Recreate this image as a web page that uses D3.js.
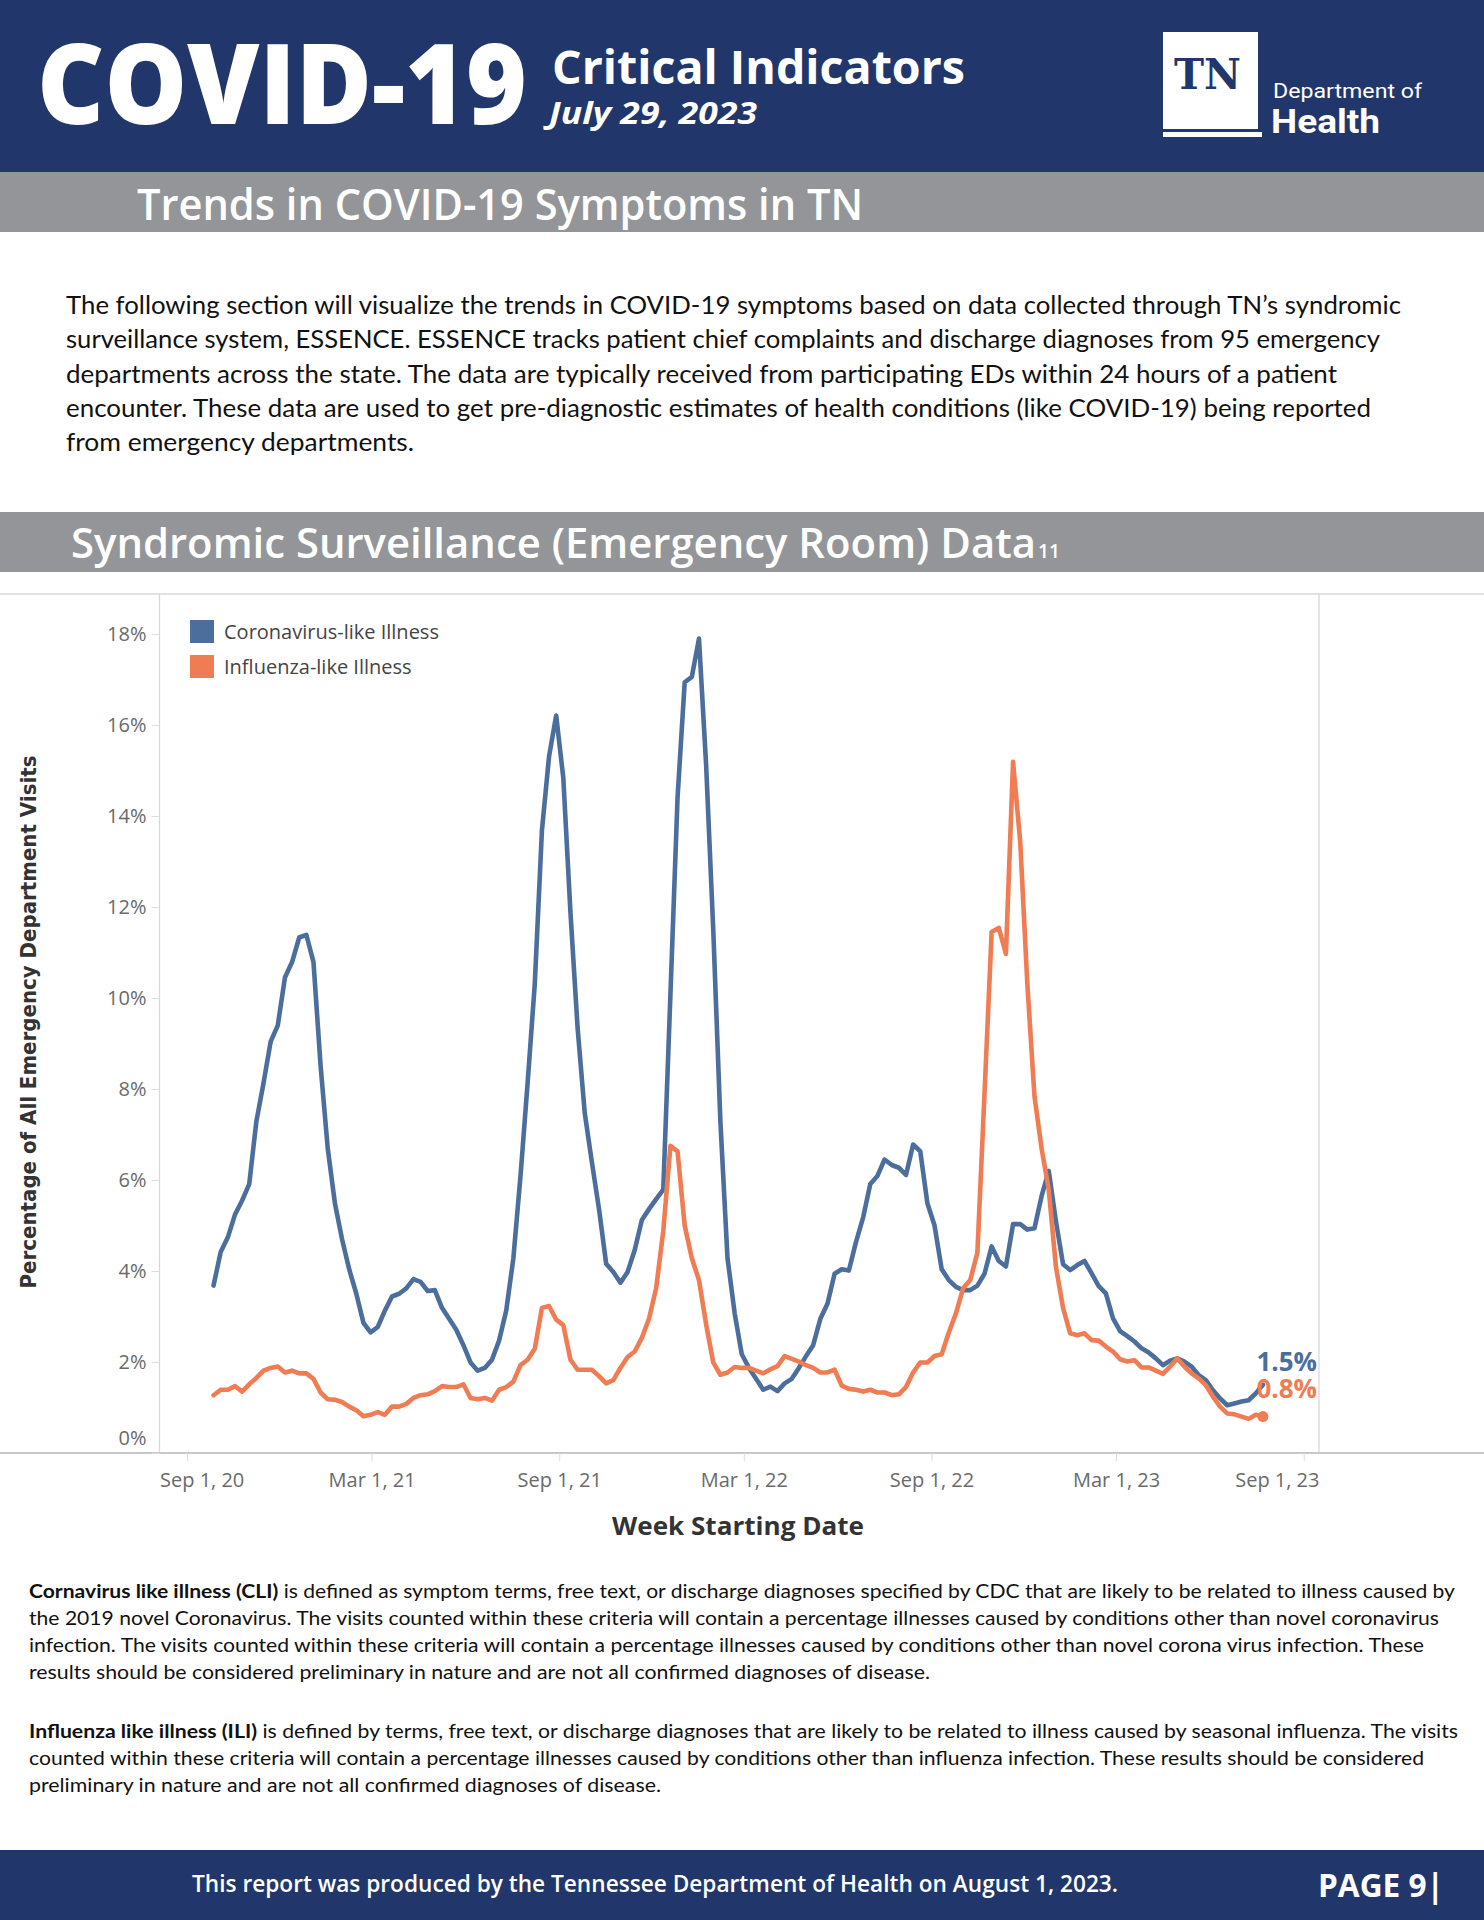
<!DOCTYPE html>
<html>
<head>
<meta charset="utf-8">
<script src="https://cdn.jsdelivr.net/npm/d3@7"></script>
<style>
  body { margin: 0; background: #fff; }
  svg text { font-family: 'Open Sans', sans-serif; }
</style>
</head>
<body>
<div id="page"></div>
<script>
// weekly ESSENCE values, first week starting Sep 27, 2020
const firstWeek = new Date(2020, 8, 27),
	cli = [3.68, 4.42, 4.74, 5.24, 5.55, 5.91, 7.29, 8.13, 9.04, 9.40,
		10.45, 10.79, 11.33, 11.39, 10.79, 8.50, 6.69, 5.49, 4.70, 4.04,
		3.50, 2.86, 2.65, 2.77, 3.13, 3.44, 3.50, 3.62, 3.82, 3.76,
		3.56, 3.58, 3.19, 2.95, 2.71, 2.37, 1.99, 1.81, 1.87, 2.05,
		2.47, 3.13, 4.28, 6.09, 8.14, 10.31, 13.68, 15.31, 16.21, 14.83,
		11.87, 9.34, 7.47, 6.39, 5.36, 4.16, 3.98, 3.74, 3.98, 4.46,
		5.12, 5.36, 5.58, 5.79, 10.07, 14.41, 16.94, 17.06, 17.90, 15.13,
		11.51, 7.29, 4.28, 3.07, 2.17, 1.87, 1.63, 1.39, 1.46, 1.36,
		1.53, 1.63, 1.87, 2.13, 2.37, 2.95, 3.28, 3.94, 4.04, 4.01,
		4.64, 5.18, 5.91, 6.09, 6.45, 6.33, 6.27, 6.11, 6.78, 6.63,
		5.49, 5.00, 4.04, 3.80, 3.65, 3.58, 3.58, 3.68, 3.94, 4.54,
		4.22, 4.10, 5.03, 5.03, 4.91, 4.94, 5.65, 6.20, 5.10, 4.15,
		4.02, 4.13, 4.22, 3.95, 3.67, 3.51, 2.96, 2.68, 2.57, 2.45,
		2.30, 2.21, 2.08, 1.93, 2.03, 2.08, 2.01, 1.90, 1.71, 1.60,
		1.38, 1.20, 1.05, 1.09, 1.13, 1.16, 1.31, 1.50],
	ili = [1.27, 1.39, 1.39, 1.47, 1.35, 1.51, 1.65, 1.81, 1.87, 1.90,
		1.77, 1.81, 1.75, 1.75, 1.63, 1.33, 1.18, 1.17, 1.12, 1.02,
		0.94, 0.81, 0.84, 0.90, 0.84, 1.02, 1.02, 1.08, 1.21, 1.27,
		1.29, 1.36, 1.47, 1.45, 1.45, 1.51, 1.21, 1.18, 1.21, 1.15,
		1.39, 1.45, 1.57, 1.93, 2.05, 2.29, 3.19, 3.23, 2.93, 2.81,
		2.05, 1.83, 1.83, 1.83, 1.69, 1.53, 1.60, 1.87, 2.11, 2.23,
		2.53, 2.95, 3.62, 4.88, 6.75, 6.63, 5.00, 4.28, 3.80, 2.83,
		1.99, 1.72, 1.77, 1.89, 1.87, 1.87, 1.81, 1.75, 1.84, 1.91,
		2.13, 2.07, 2.01, 1.93, 1.87, 1.77, 1.77, 1.83, 1.48, 1.41,
		1.39, 1.35, 1.39, 1.33, 1.33, 1.27, 1.29, 1.45, 1.77, 1.99,
		1.99, 2.13, 2.17, 2.65, 3.07, 3.62, 3.80, 4.40, 7.90, 11.45,
		11.54, 10.97, 15.19, 13.44, 10.31, 7.84, 6.69, 5.79, 4.10, 3.19,
		2.63, 2.59, 2.63, 2.48, 2.47, 2.34, 2.23, 2.06, 2.01, 2.04,
		1.88, 1.88, 1.81, 1.74, 1.90, 2.08, 1.90, 1.75, 1.64, 1.49,
		1.24, 1.02, 0.87, 0.85, 0.80, 0.75, 0.84, 0.80],
	seriesNames = ['Coronavirus-like Illness', 'Influenza-like Illness'],
	colors = ['#4b6e9c', '#ef7c52'],
	yTicks = [0, 2, 4, 6, 8, 10, 12, 14, 16, 18],
	xTicks = [new Date(2020, 8, 1), new Date(2021, 2, 1), new Date(2021, 8, 1),
		new Date(2022, 2, 1), new Date(2022, 8, 1), new Date(2023, 2, 1), new Date(2023, 8, 1)],
	navy = '#21376b',
	grey = '#939598',
	width = 1484,
	height = 1920,
	pane = {left: 159.5, right: 1319, top: 594, bottom: 1453};

const intro = [
	'The following section will visualize the trends in COVID-19 symptoms based on data collected through TN\u2019s syndromic',
	'surveillance system, ESSENCE. ESSENCE tracks patient chief complaints and discharge diagnoses from 95 emergency',
	'departments across the state. The data are typically received from participating EDs within 24 hours of a patient',
	'encounter. These data are used to get pre-diagnostic estimates of health conditions (like COVID-19) being reported',
	'from emergency departments.'
];
const introWidths = [1335, 1314, 1271, 1305, 348];

const cliNote = [
	['Cornavirus like illness (CLI)', ' is defined as symptom terms, free text, or discharge diagnoses specified by CDC that are likely to be related to illness caused by'],
	['', 'the 2019 novel Coronavirus. The visits counted within these criteria will contain a percentage illnesses caused by conditions other than novel coronavirus'],
	['', 'infection. The visits counted within these criteria will contain a percentage illnesses caused by conditions other than novel corona virus infection. These'],
	['', 'results should be considered preliminary in nature and are not all confirmed diagnoses of disease.']
];
const cliWidths = [1426, 1410, 1395, 901];
const iliNote = [
	['Influenza like illness (ILI)', ' is defined by terms, free text, or discharge diagnoses that are likely to be related to illness caused by seasonal influenza. The visits'],
	['', 'counted within these criteria will contain a percentage illnesses caused by conditions other than influenza infection. These results should be considered'],
	['', 'preliminary in nature and are not all confirmed diagnoses of disease.']
];
const iliWidths = [1429, 1395, 632];

// put a text line in and stretch it to the width measured on the page
const fitText = (g, x, y, str, size, w, attrs) => {
	let t = g.append('text')
		.attr('x', x)
		.attr('y', y)
		.style('font-size', size + 'px')
		.text(str);
	if (w) t.attr('textLength', w).attr('lengthAdjust', 'spacingAndGlyphs');
	for (let k in attrs) t.style(k, attrs[k]);
	return t;
};

const makePage = () => {

	let svg = d3.select('#page')
		.append('svg')
		.attr('width', width)
		.attr('height', height)
		.style('display', 'block')
		.style('background', 'white');

	// header band
	svg.append('rect').attr('x', 0).attr('y', 0).attr('width', width).attr('height', 172).attr('fill', navy);
	fitText(svg, 37, 124, 'COVID-19', 112, 490, {fill: 'white', 'font-weight': 800});
	fitText(svg, 552, 84, 'Critical Indicators', 46, 413, {fill: 'white', 'font-weight': 700});
	fitText(svg, 549, 124, 'July 29, 2023', 30, 208, {fill: 'white', 'font-weight': 700, 'font-style': 'italic'});

	// logo
	svg.append('rect').attr('x', 1163).attr('y', 32).attr('width', 95).attr('height', 97).attr('fill', 'white');
	svg.append('rect').attr('x', 1163).attr('y', 132).attr('width', 99).attr('height', 5).attr('fill', 'white');
	fitText(svg, 1174, 89, 'TN', 42, 67, {fill: navy, 'font-weight': 700, 'font-family': "'DejaVu Serif', serif"});
	fitText(svg, 1273, 98, 'Department of', 21, 149, {fill: 'white', 'font-family': 'Roboto, sans-serif'});
	fitText(svg, 1271, 133, 'Health', 34, 109, {fill: 'white', 'font-weight': 700, 'font-family': 'Roboto, sans-serif'});

	// section band
	svg.append('rect').attr('x', 0).attr('y', 172).attr('width', width).attr('height', 60).attr('fill', grey);
	fitText(svg, 137, 220, 'Trends in COVID-19 Symptoms in TN', 43, 726, {fill: 'white', 'font-weight': 600});

	// intro paragraph
	intro.forEach((s, i) => {
		fitText(svg, 66, 314 + i * 34.3, s, 25, introWidths[i], {fill: '#111', 'font-family': 'Lato, sans-serif'});
	});

	// chart band
	svg.append('rect').attr('x', 0).attr('y', 512).attr('width', width).attr('height', 60).attr('fill', grey);
	fitText(svg, 71, 558, 'Syndromic Surveillance (Emergency Room) Data', 42, 965, {fill: 'white', 'font-weight': 600});
	fitText(svg, 1038, 558, '11', 20, 22, {fill: 'white', 'font-weight': 600});

	// scales
	let x = d3.scaleTime()
		.domain([new Date(2020, 7, 5), new Date(2023, 8, 16)])
		.range([pane.left, pane.right]);
	let y = d3.scaleLinear()
		.domain([0, 18.88])
		.range([pane.bottom, pane.top]);
	let weeks = cli.map((d, i) => d3.timeDay.offset(firstWeek, i * 7));

	// pane frame
	let frame = svg.append('g').attr('stroke', '#d9d9d9').attr('stroke-width', 1.3);
	frame.append('line').attr('x1', 0).attr('x2', width).attr('y1', pane.top).attr('y2', pane.top);
	frame.append('line').attr('x1', pane.left).attr('x2', pane.left).attr('y1', pane.top).attr('y2', pane.bottom);
	frame.append('line').attr('x1', pane.right).attr('x2', pane.right).attr('y1', pane.top).attr('y2', pane.bottom);
	frame.append('line').attr('x1', 0).attr('x2', width).attr('y1', pane.bottom).attr('y2', pane.bottom)
		.attr('stroke', '#c8c8c8').attr('stroke-width', 2);

	// axes
	let yAxis = d3.axisLeft(y).tickValues(yTicks).tickFormat(d => d + '%').tickSize(8).tickPadding(5);
	let xAxis = d3.axisBottom(x).tickValues(xTicks).tickFormat(d3.timeFormat('%b %-d, %y')).tickSize(8).tickPadding(12);

	let gy = svg.append('g')
		.attr('transform', `translate(${pane.left},0)`)
		.call(yAxis);
	gy.select('.domain').remove();
	gy.selectAll('line').attr('stroke', '#dcdcdc');
	gy.selectAll('text')
		.attr('fill', '#6a6a6a')
		.style('font-size', '20px')
		.style('font-family', "'Open Sans', sans-serif")
		.attr('y', d => d === 0 ? -15 : 0);

	let gx = svg.append('g')
		.attr('transform', `translate(0,${pane.bottom})`)
		.call(xAxis);
	gx.select('.domain').remove();
	gx.selectAll('line').attr('stroke', '#dcdcdc');
	gx.selectAll('text')
		.attr('fill', '#6a6a6a')
		.style('font-size', '20px')
		.style('font-family', "'Open Sans', sans-serif")
		.each(function(d) {
			// keep end labels inside the pane like tableau does
			let w = this.getComputedTextLength(), cx = x(d), shift = 0;
			if (cx - w / 2 < pane.left) shift = pane.left - (cx - w / 2);
			if (cx + w / 2 > pane.right) shift = pane.right - (cx + w / 2);
			d3.select(this).attr('x', shift);
		});

	// axis titles
	fitText(svg, 738, 1535, 'Week Starting Date', 25, 252, {fill: '#333', 'font-weight': 700})
		.attr('text-anchor', 'middle');
	fitText(svg, 0, 0, 'Percentage of All Emergency Department Visits', 21, 533,
			{fill: '#333', 'font-weight': 700, 'font-family': "'DejaVu Sans', sans-serif"})
		.attr('text-anchor', 'middle')
		.attr('transform', 'translate(36,1022) rotate(-90)');

	// lines
	let line = d3.line()
		.x((d, i) => x(weeks[i]))
		.y(d => y(d));

	[cli, ili].forEach((s, k) => {
		svg.append('path')
			.datum(s)
			.attr('fill', 'none')
			.attr('stroke', colors[k])
			.attr('stroke-width', 4.6)
			.attr('stroke-linejoin', 'round')
			.attr('stroke-linecap', 'round')
			.attr('d', line);
	});

	let last = weeks.length - 1;
	svg.append('circle')
		.attr('cx', x(weeks[last]))
		.attr('cy', y(ili[last]))
		.attr('r', 5.5)
		.attr('fill', colors[1]);

	// end labels
	fitText(svg, 1317, 1371, cli[last].toFixed(1) + '%', 26, null, {fill: colors[0], 'font-weight': 700})
		.attr('text-anchor', 'end');
	fitText(svg, 1317, 1398, ili[last].toFixed(1) + '%', 26, null, {fill: colors[1], 'font-weight': 700})
		.attr('text-anchor', 'end');

	// legend
	let legend = svg.append('g').attr('transform', 'translate(190,620)');
	seriesNames.forEach((n, i) => {
		legend.append('rect')
			.attr('x', 0)
			.attr('y', i * 35)
			.attr('width', 24)
			.attr('height', 23)
			.attr('fill', colors[i]);
		legend.append('text')
			.attr('x', 34)
			.attr('y', i * 35 + 19)
			.attr('fill', '#444')
			.style('font-size', '20px')
			.text(n);
	});

	// definitions
	const note = (rows, widths, y0) => {
		rows.forEach((r, i) => {
			let t = svg.append('text')
				.attr('x', 29)
				.attr('y', y0 + i * 27)
				.attr('fill', '#111')
				.style('font-size', '19.5px')
				.style('font-family', 'Lato, sans-serif')
				.attr('textLength', widths[i])
				.attr('lengthAdjust', 'spacingAndGlyphs');
			if (r[0]) t.append('tspan').style('font-weight', 700).text(r[0]);
			t.append('tspan').text(r[1]);
		});
	};
	note(cliNote, cliWidths, 1598);
	note(iliNote, iliWidths, 1738);

	// footer
	svg.append('rect').attr('x', 0).attr('y', 1850).attr('width', width).attr('height', 70).attr('fill', navy);
	fitText(svg, 192, 1892, 'This report was produced by the Tennessee Department of Health on August 1, 2023.', 23, 926,
		{fill: 'white', 'font-weight': 600});
	fitText(svg, 1318, 1897, 'PAGE 9|', 33, 126, {fill: 'white', 'font-weight': 700});
};

makePage();
</script>
</body>
</html>
